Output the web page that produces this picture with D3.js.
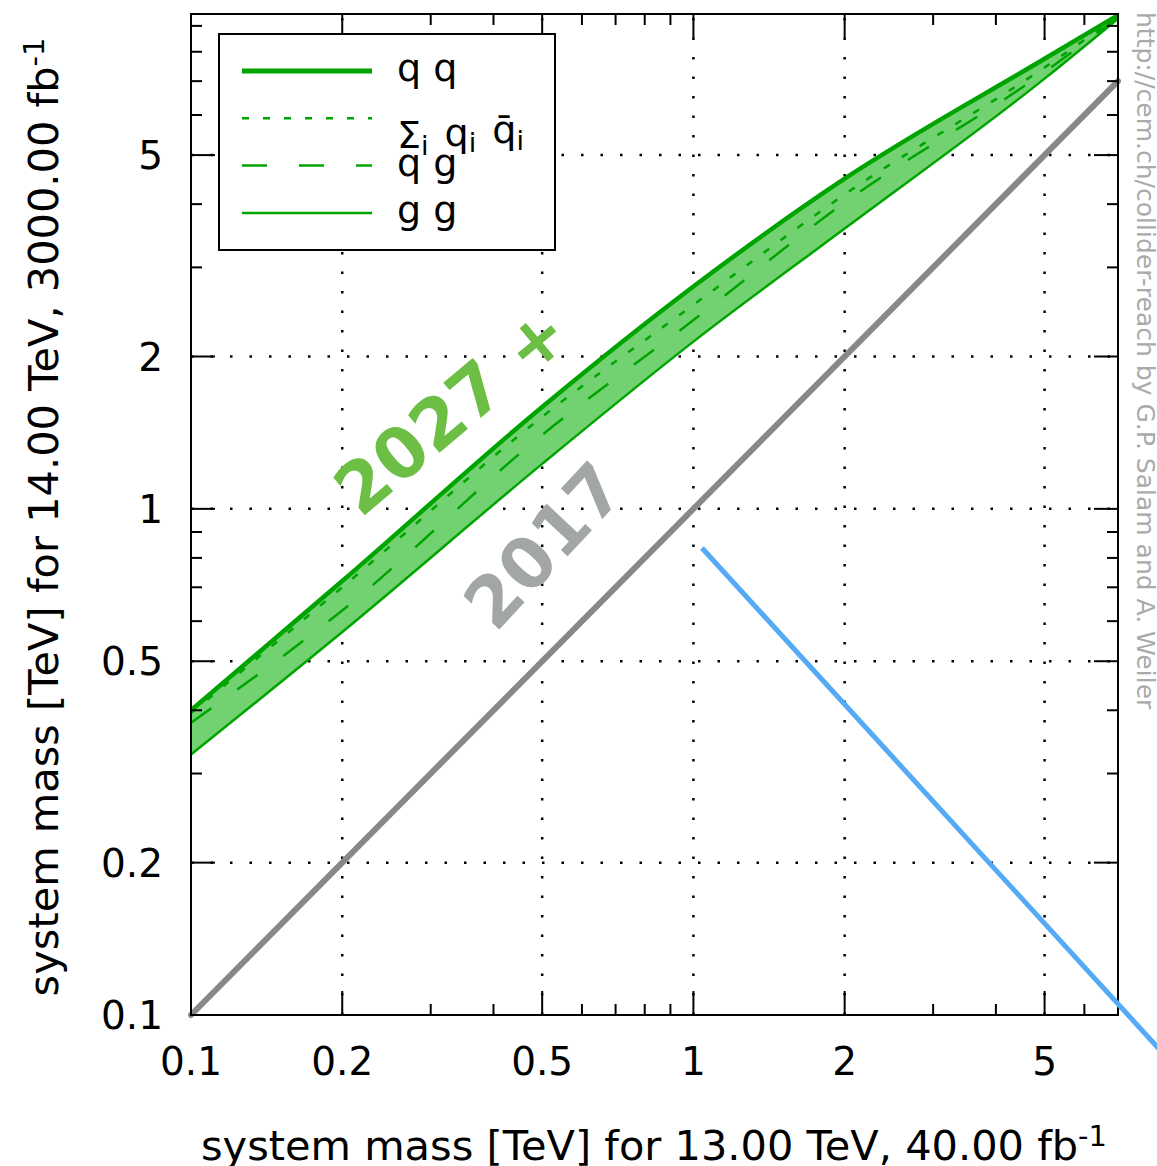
<!DOCTYPE html>
<html>
<head>
<meta charset="utf-8">
<script src="https://cdn.jsdelivr.net/npm/d3@7"></script>
<style>
  body { margin: 0; background: #ffffff; }
  svg text { font-family: "DejaVu Sans", sans-serif; }
</style>
</head>
<body>
<div id="chart"></div>
<script>
// reach mass values [TeV]
const massX   = [0.1, 0.2, 0.5, 1, 2, 5, 7];
const qqY     = [0.40, 0.72, 1.59, 2.75, 4.49, 7.75, 9.45];
const qqbarY  = [0.395, 0.70, 1.52, 2.53, 4.18, 7.45, 9.4];
const qgY     = [0.378, 0.63, 1.40, 2.36, 4.03, 7.30, 9.35];
const ggY     = [0.327, 0.571, 1.227, 2.14, 3.58, 7.08, 9.3];

// 2017 reference line (same mass on both axes)
const refX = [0.1, 7];
const refY = [0.1, 7];

// blue annotation stroke
const arrowX = [1.04, 9];
const arrowY = [0.837, 0.08];

const xTicks      = [0.1, 0.2, 0.5, 1, 2, 5];
const yTicks      = [0.1, 0.2, 0.5, 1, 2, 5];
const minorTicks  = [0.3, 0.4, 0.6, 0.7, 0.8, 0.9, 3, 4, 6, 7, 8, 9];
const gridValues  = [0.2, 0.5, 1, 2, 5];

const legendLabels = ['qq', 'qqbar', 'qg', 'gg'];

let widthContainer  = 1157;
let heightContainer = 1166;
let margin          = {top: 14, left: 191, right: 39, bottom: 151};

const green     = '#00a400';
const bandFill  = '#72d272';

let svg = d3.select('#chart')
  .append('svg')
  .attr('width',  widthContainer)
  .attr('height', heightContainer);

let xScale = d3.scaleLog()
  .domain([0.1, 7])
  .range([margin.left, widthContainer - margin.right]);

let yScale = d3.scaleLog()
  .domain([0.1, 9.5])
  .range([heightContainer - margin.bottom, margin.top]);

const x0 = xScale.range()[0], x1 = xScale.range()[1];
const y0 = yScale.range()[0], y1 = yScale.range()[1];

// grid
svg.append('g').selectAll('line.gx')
  .data(gridValues)
  .enter().append('line')
  .attr('x1', d => xScale(d)).attr('x2', d => xScale(d))
  .attr('y1', y0).attr('y2', y1)
  .style('stroke', '#000').style('stroke-width', 2.5)
  .style('stroke-dasharray', '2.5,17');

svg.append('g').selectAll('line.gy')
  .data(gridValues)
  .enter().append('line')
  .attr('y1', d => yScale(d)).attr('y2', d => yScale(d))
  .attr('x1', x0).attr('x2', x1)
  .style('stroke', '#000').style('stroke-width', 2.5)
  .style('stroke-dasharray', '2.5,17');

// band
let bandData = massX.map((m, i) => ({x: m, hi: qqY[i], lo: ggY[i]}));

let area = d3.area()
  .x(d => xScale(d.x))
  .y0(d => yScale(d.lo))
  .y1(d => yScale(d.hi))
  .curve(d3.curveMonotoneX);

svg.append('path')
  .datum(bandData)
  .attr('d', area)
  .style('fill', bandFill);

let line = d3.line()
  .x(d => xScale(d[0]))
  .y(d => yScale(d[1]))
  .curve(d3.curveMonotoneX);

const series = [
  {ys: qqY,    width: 4.5, dash: null},
  {ys: qqbarY, width: 2.5, dash: '7,14'},
  {ys: qgY,    width: 2.5, dash: '25,32'},
  {ys: ggY,    width: 2.5, dash: null}
];

series.forEach(s => {
  svg.append('path')
    .datum(massX.map((m, i) => [m, s.ys[i]]))
    .attr('d', line)
    .style('fill', 'none')
    .style('stroke', green)
    .style('stroke-width', s.width)
    .style('stroke-dasharray', s.dash);
});

// 2017 line
svg.append('path')
  .datum(refX.map((m, i) => [m, refY[i]]))
  .attr('d', d3.line().x(d => xScale(d[0])).y(d => yScale(d[1])))
  .style('fill', 'none')
  .style('stroke', '#888888')
  .style('stroke-width', 6)
  .style('stroke-linecap', 'round');

// frame
svg.append('rect')
  .attr('x', x0).attr('y', y1)
  .attr('width', x1 - x0).attr('height', y0 - y1)
  .style('fill', 'none').style('stroke', '#000').style('stroke-width', 2);

// ticks on all four sides, pointing inwards
function tickLen(v) { return minorTicks.indexOf(v) >= 0 ? 11 : 24; }
const xAllTicks = xTicks.concat(minorTicks).filter(v => v > 0.1 && v < 7);
const yAllTicks = yTicks.concat(minorTicks).filter(v => v > 0.1 && v < 9.5);

let ticks = svg.append('g').style('stroke', '#000').style('stroke-width', 2);
xAllTicks.forEach(v => {
  ticks.append('line').attr('x1', xScale(v)).attr('x2', xScale(v)).attr('y1', y0).attr('y2', y0 - tickLen(v));
  ticks.append('line').attr('x1', xScale(v)).attr('x2', xScale(v)).attr('y1', y1).attr('y2', y1 + tickLen(v));
});
yAllTicks.forEach(v => {
  ticks.append('line').attr('y1', yScale(v)).attr('y2', yScale(v)).attr('x1', x0).attr('x2', x0 + tickLen(v));
  ticks.append('line').attr('y1', yScale(v)).attr('y2', yScale(v)).attr('x1', x1).attr('x2', x1 - tickLen(v));
});

// tick labels
svg.append('g').selectAll('text')
  .data(xTicks)
  .enter().append('text')
  .attr('x', d => xScale(d))
  .attr('y', y0 + 60)
  .attr('text-anchor', 'middle')
  .style('font-size', '39px')
  .text(d => d);

svg.append('g').selectAll('text')
  .data(yTicks)
  .enter().append('text')
  .attr('x', x0 - 28)
  .attr('y', d => yScale(d))
  .attr('dy', '0.36em')
  .attr('text-anchor', 'end')
  .style('font-size', '39px')
  .text(d => d);

// axis titles
let xt = svg.append('text')
  .attr('x', 654)
  .attr('y', 1160)
  .attr('text-anchor', 'middle')
  .style('font-size', '41.5px')
  .text('system mass [TeV] for 13.00 TeV, 40.00 fb');
xt.append('tspan').attr('dy', '-0.5em').style('font-size', '29px').text('-1');

let yt = svg.append('text')
  .attr('transform', `translate(58, 517) rotate(-90)`)
  .attr('text-anchor', 'middle')
  .style('font-size', '41.5px')
  .text('system mass [TeV] for 14.00 TeV, 3000.00 fb');
yt.append('tspan').attr('dy', '-0.5em').style('font-size', '29px').text('-1');

// credit
svg.append('text')
  .attr('transform', `translate(1137, 12) rotate(90)`)
  .attr('text-anchor', 'start')
  .style('font-size', '25px')
  .style('fill', '#aaaaaa')
  .text('http://cem.ch/collider-reach by G.P. Salam and A. Weiler');

// big year labels
svg.append('text')
  .attr('transform', `translate(${xScale(0.33)}, ${yScale(1.56)}) rotate(-40)`)
  .attr('text-anchor', 'middle')
  .attr('dominant-baseline', 'central')
  .style('font-weight', 'bold')
  .style('font-size', '70px')
  .style('fill', '#6cbe45')
  .text('2027 +');

svg.append('text')
  .attr('transform', `translate(${xScale(0.505)}, ${yScale(0.845)}) rotate(-47)`)
  .attr('text-anchor', 'middle')
  .attr('dominant-baseline', 'central')
  .style('font-weight', 'bold')
  .style('font-size', '70px')
  .style('fill', '#a2a6a6')
  .text('2017');

// legend
let legend = svg.append('g');
legend.append('rect')
  .attr('x', 219).attr('y', 34).attr('width', 336).attr('height', 216)
  .style('fill', '#fff').style('stroke', '#000').style('stroke-width', 2);

legendLabels.forEach((key, i) => {
  const ly = 71 + i * 47.3;
  legend.append('line')
    .attr('x1', 242).attr('x2', 372).attr('y1', ly).attr('y2', ly)
    .style('stroke', green)
    .style('stroke-width', i === 0 ? 5 : series[i].width)
    .style('stroke-dasharray', series[i].dash);

  let t = legend.append('text')
    .attr('x', 397)
    .attr('y', key === 'qqbar' ? ly + 30 : ly + 10)
    .style('font-size', '38px');
  if (key === 'qqbar') {
    t.append('tspan').text('Σ');
    t.append('tspan').attr('dy', '0.25em').style('font-size', '27px').text('i');
    t.append('tspan').attr('dy', '-0.25em').attr('dx', 4).text(' q');
    t.append('tspan').attr('dy', '0.25em').style('font-size', '27px').text('i');
    t.append('tspan').attr('dy', '-0.25em').attr('dx', 4).text(' q\u0304');
    t.append('tspan').attr('dy', '0.25em').style('font-size', '27px').text('i');
  } else {
    t.text(key[0] + ' ' + key[1]);
  }
});

// blue annotation stroke
svg.append('path')
  .datum(arrowX.map((m, i) => [m, arrowY[i]]))
  .attr('d', d3.line().x(d => xScale(d[0])).y(d => yScale(d[1])))
  .style('fill', 'none')
  .style('stroke', '#55aaf5')
  .style('stroke-width', 5);
</script>
</body>
</html>
